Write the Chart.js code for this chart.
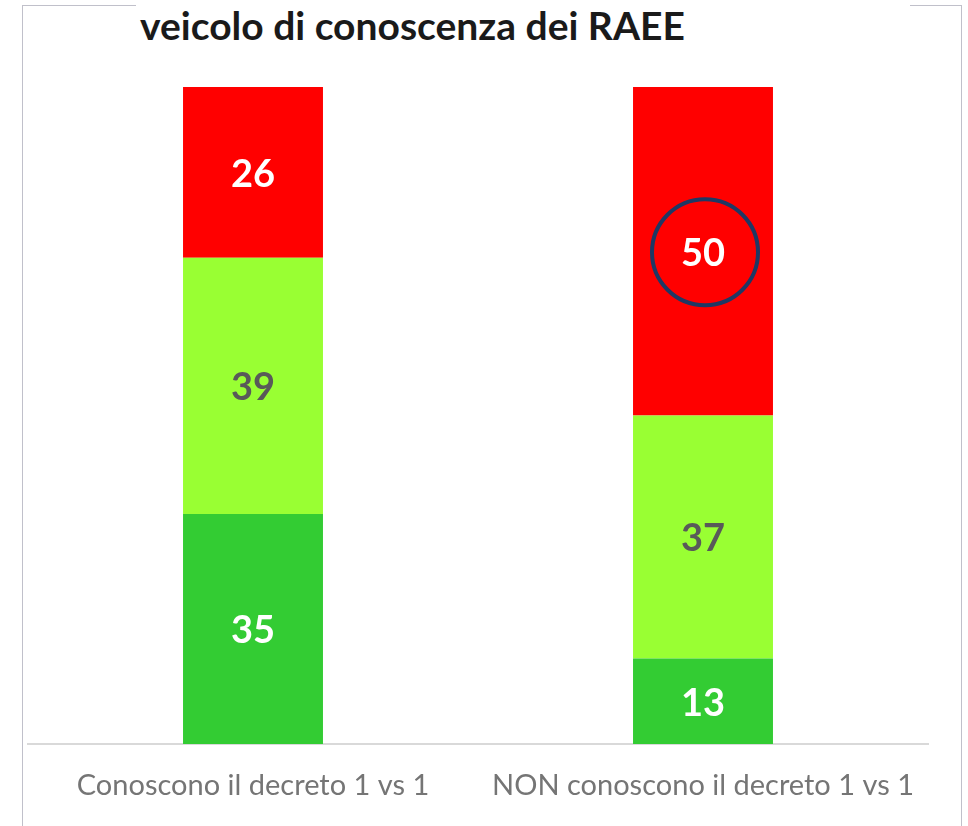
<!DOCTYPE html>
<html>
<head>
<meta charset="utf-8">
<script src="https://cdn.jsdelivr.net/npm/chart.js@4.4.1/dist/chart.umd.min.js"></script>
<style>
    html, body { margin: 0; padding: 0; background: #fff; }
    #wrap { position: relative; width: 968px; height: 826px; overflow: hidden; }
    #frame { position: absolute; left: 22px; top: 5px; width: 940px; height: 900px; border: 1.5px solid #c0c0ca; box-sizing: border-box; }
    #title { position: absolute; left: 136px; top: 1px; padding: 0 0 0 4px; background: #fff; font: bold 39px Lato, sans-serif; color: #1a1a1a; line-height: 48px; width: 774px; box-sizing: border-box; }
    #chart { position: absolute; left: 0; top: 0; }
</style>
</head>
<body>
<div id="wrap">
    <div id="frame"></div>
    <div id="title">veicolo di conoscenza dei RAEE</div>
    <canvas id="chart" width="968" height="826"></canvas>
</div>
<script>
// veicolo di conoscenza dei RAEE - stacked 100% bars

const categories = ['Conoscono il decreto 1 vs 1', 'NON conoscono il decreto 1 vs 1'];
const seriesNames = ['verde scuro', 'verde chiaro', 'rosso'];
const darkGreenValues = [35, 13];
const lightGreenValues = [39, 37];
const redValues = [26, 50];
const yTicks = [0, 100];

const seriesColors = ['#33CC33', '#99FF33', '#FF0000'];
const labelColors = ['#ffffff', '#595959', '#ffffff'];

// Draw the value inside every segment, and a ring round the highlighted one
const segmentLabels = {
    id: 'segmentLabels',
    afterDatasetsDraw(chart) {
        const ctx = chart.ctx;
        ctx.save();
        ctx.font = 'bold 38px Lato, sans-serif';
        ctx.textAlign = 'center';
        ctx.textBaseline = 'middle';
        chart.data.datasets.forEach(function (ds, di) {
            const meta = chart.getDatasetMeta(di);
            meta.data.forEach(function (bar, i) {
                const cy = (bar.y + bar.base) / 2;
                ctx.fillStyle = labelColors[di];
                ctx.fillText(String(ds.data[i]), bar.x, cy + 2);
                if (di === 2 && i === 1) {
                    ctx.beginPath();
                    ctx.strokeStyle = '#1F3864';
                    ctx.lineWidth = 4;
                    ctx.arc(bar.x + 2, cy + 1, 53, 0, Math.PI * 2);
                    ctx.stroke();
                }
            });
        });
        ctx.restore();
    }
};

new Chart(document.getElementById('chart'), {
    type: 'bar',
    data: {
        labels: categories,
        datasets: [
            { label: seriesNames[0], data: darkGreenValues, backgroundColor: seriesColors[0] },
            { label: seriesNames[1], data: lightGreenValues, backgroundColor: seriesColors[1] },
            { label: seriesNames[2], data: redValues, backgroundColor: seriesColors[2] }
        ]
    },
    options: {
        responsive: false,
        animation: false,
        events: [],
        layout: { padding: { top: 87, left: 28, right: 40, bottom: 0 } },
        datasets: { bar: { categoryPercentage: 1, barPercentage: 0.311 } },
        plugins: {
            legend: { display: false },
            tooltip: { enabled: false },
            title: { display: false }
        },
        scales: {
            x: {
                stacked: true,
                grid: { display: false },
                border: { color: '#d9d9d9', width: 2 },
                ticks: {
                    color: '#757575',
                    font: { family: 'Lato, sans-serif', size: 29 },
                    padding: 16
                },
                afterFit: function (scale) { scale.height = 82; }
            },
            y: {
                stacked: true,
                display: false,
                min: yTicks[0],
                max: yTicks[1]
            }
        }
    },
    plugins: [segmentLabels]
});
</script>
</body>
</html>
